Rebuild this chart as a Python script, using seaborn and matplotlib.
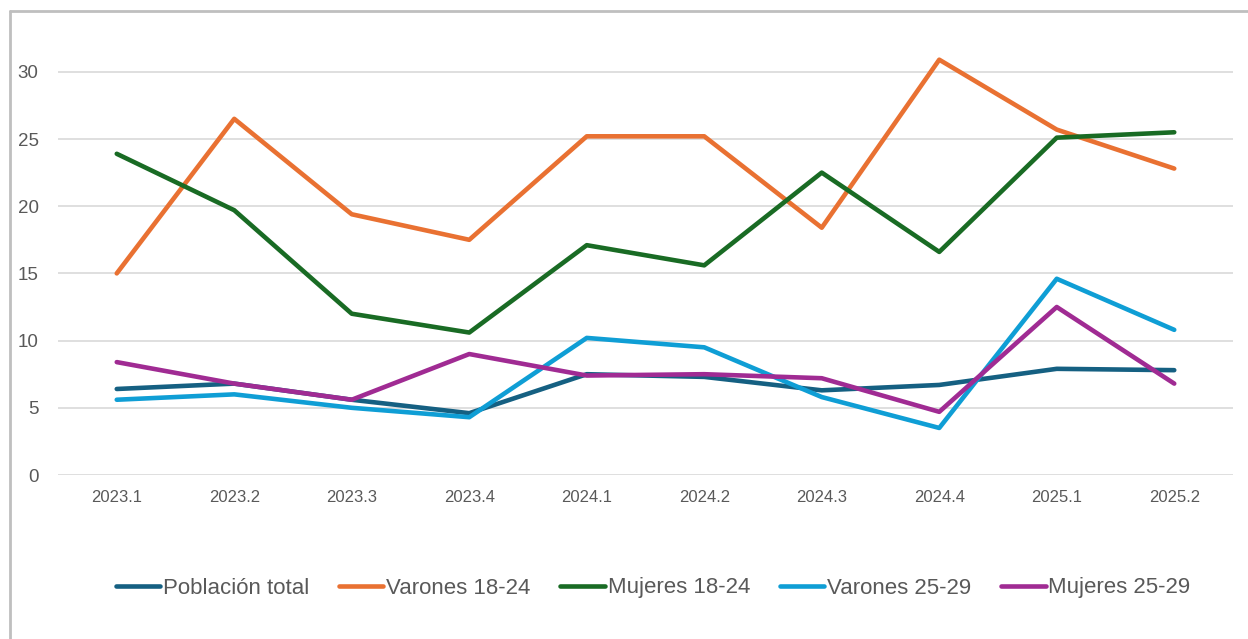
import numpy as np
import pandas as pd
import matplotlib.pyplot as plt
import seaborn as sns
from matplotlib.lines import Line2D

# ── Data ──────────────────────────────────────────────────────────
quarters = ["2023.1", "2023.2", "2023.3", "2023.4", "2024.1",
            "2024.2", "2024.3", "2024.4", "2025.1", "2025.2"]

poblacion_total = [6.4, 6.8, 5.6, 4.6, 7.5, 7.3, 6.3, 6.7, 7.9, 7.8]
varones_18_24 = [15.0, 26.5, 19.4, 17.5, 25.2, 25.2, 18.4, 30.9, 25.7, 22.8]
mujeres_18_24 = [23.9, 19.7, 12.0, 10.6, 17.1, 15.6, 22.5, 16.6, 25.1, 25.5]
varones_25_29 = [5.6, 6.0, 5.0, 4.3, 10.2, 9.5, 5.8, 3.5, 14.6, 10.8]
mujeres_25_29 = [8.4, 6.8, 5.6, 9.0, 7.4, 7.5, 7.2, 4.7, 12.5, 6.8]

series_names = ["Población total", "Varones 18-24", "Mujeres 18-24",
                "Varones 25-29", "Mujeres 25-29"]
series_values = [poblacion_total, varones_18_24, mujeres_18_24,
                 varones_25_29, mujeres_25_29]
colors = ["#156082", "#E97132", "#196B24", "#0F9ED5", "#A02B93"]

df = pd.DataFrame({
    "trimestre": quarters * len(series_names),
    "valor": np.concatenate(series_values),
    "serie": np.repeat(series_names, len(quarters)),
})

# ── Plot ──────────────────────────────────────────────────────────
sns.set_style("white")
plt.rcParams["font.family"] = ["Liberation Sans", "DejaVu Sans"]
GREY = "#595959"

fig = plt.figure(figsize=(12.48, 6.39), dpi=100)
ax = fig.add_axes([58 / 1248, 1 - 475 / 639, 1175 / 1248, 35 * 13.44 / 639])

sns.lineplot(data=df, x="trimestre", y="valor", hue="serie",
             hue_order=series_names, palette=dict(zip(series_names, colors)),
             sort=False, linewidth=3.3, ax=ax, legend=True)

ax.set_xlim(-0.5, len(quarters) - 0.5)
ax.set_ylim(0, 35)
ax.set_yticks(np.arange(0, 31, 5))
ax.yaxis.grid(True, color="#D9D9D9", linewidth=1.2)
ax.xaxis.grid(False)
ax.set_axisbelow(True)
for s in ax.spines.values():
    s.set_visible(False)
ax.set_xlabel("")
ax.set_ylabel("")
ax.tick_params(axis="y", length=0, pad=14, labelsize=13.5, labelcolor=GREY)
ax.tick_params(axis="x", length=0, pad=11, labelsize=12, labelcolor=GREY)

handles, labels = ax.get_legend_handles_labels()
ax.legend_.remove()
fig.legend(handles, labels, loc="center", bbox_to_anchor=(653 / 1248, 1 - 588 / 639),
           ncol=5, frameon=False, fontsize=16, labelcolor=GREY,
           handlelength=2.0, handletextpad=0.12, columnspacing=1.35)

# chart frame (left and top edges visible)
fig.add_artist(Line2D([9.5 / 1248, 9.5 / 1248], [0, 1 - 11 / 639],
                      transform=fig.transFigure, color="#BFBFBF", linewidth=2))
fig.add_artist(Line2D([9.5 / 1248, 1], [1 - 11 / 639, 1 - 11 / 639],
                      transform=fig.transFigure, color="#BFBFBF", linewidth=2))

plt.savefig("out.png", dpi=100)
